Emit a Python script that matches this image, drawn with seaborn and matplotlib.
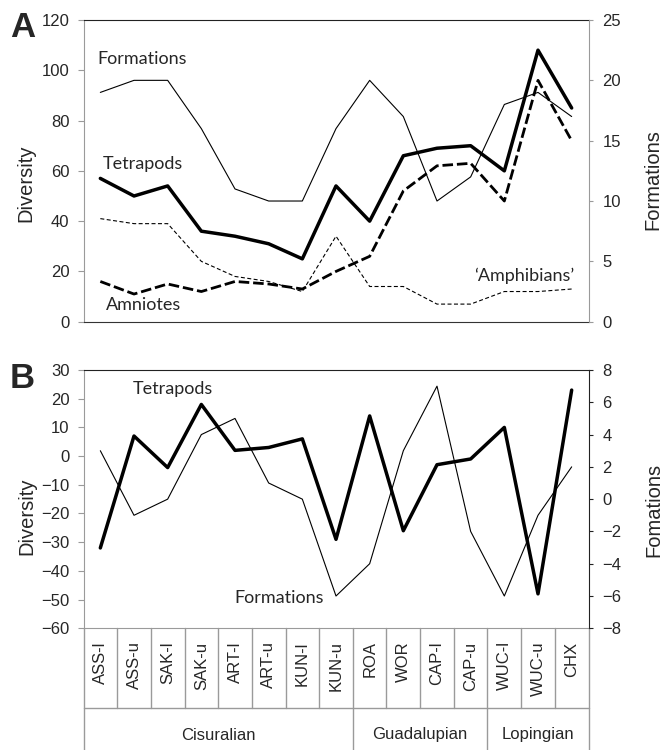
import numpy as np
import matplotlib
matplotlib.use("Agg")
import matplotlib.pyplot as plt
import matplotlib.transforms as mtransforms
import seaborn as sns

# stages and epochs
stages = ["ASS-l", "ASS-u", "SAK-l", "SAK-u", "ART-l", "ART-u", "KUN-l", "KUN-u",
          "ROA", "WOR", "CAP-l", "CAP-u", "WUC-l", "WUC-u", "CHX"]
epochs = ["Cisuralian", "Guadalupian", "Lopingian"]
epoch_sizes = [8, 4, 3]

# panel A: raw diversity (left axis) and formations (right axis)
tetrapods_a = [57, 50, 54, 36, 34, 31, 25, 54, 40, 66, 69, 70, 60, 108, 85]
amniotes_a = [16, 11, 15, 12, 16, 15, 13, 20, 26, 52, 62, 63, 48, 96, 72]
amphibians_a = [41, 39, 39, 24, 18, 16, 12, 34, 14, 14, 7, 7, 12, 12, 13]
formations_a = [19, 20, 20, 16, 11, 10, 10, 16, 20, 17, 10, 12, 18, 19, 17]

# panel B: changes
tetrapods_b = [-32, 7, -4, 18, 2, 3, 6, -29, 14, -26, -3, -1, 10, -48, 23]
formations_b = [3, -1, 0, 4, 5, 1, 0, -6, -4, 3, 7, -2, -6, -1, 2]

sns.set_style("white")
plt.rcParams['font.family'] = ['Liberation Sans', 'DejaVu Sans']
note_font = ['Lato', 'DejaVu Sans']

GREY = "#9a9a9a"
DARK = "#222222"

W, H = 663, 750
fig = plt.figure(figsize=(W / 100, H / 100), dpi=100)
x0, x1 = 83.5, 588.5
axA = fig.add_axes([x0 / W, 1 - 321.7 / H, (x1 - x0) / W, 301.7 / H])
axB = fig.add_axes([x0 / W, 1 - 628.3 / H, (x1 - x0) / W, 258.3 / H])

pos = np.arange(len(stages))

# ---- panel A ----
sns.lineplot(x=pos, y=tetrapods_a, ax=axA, color="black", lw=2.5)
sns.lineplot(x=pos, y=amniotes_a, ax=axA, color="black", lw=2.0,
             linestyle=(0, (3.8, 1.4)))
sns.lineplot(x=pos, y=amphibians_a, ax=axA, color="black", lw=0.8,
             linestyle=(0, (3.6, 2.2)))
axA.set_xlim(-0.5, len(stages) - 0.5)
axA.set_ylim(0, 120)
axA.set_yticks(range(0, 121, 20))
axA.set_xticks([])
axA2 = axA.twinx()
sns.lineplot(x=pos, y=formations_a, ax=axA2, color="black", lw=0.8)
axA2.set_ylim(0, 25)
axA2.set_yticks(range(0, 26, 5))

axA.spines["left"].set_color(GREY)
axA.spines["bottom"].set_color("#333333")
axA.spines["top"].set_color(DARK)
axA.spines["right"].set_visible(False)
for s in ["left", "top", "bottom"]:
    axA2.spines[s].set_visible(False)
axA2.spines["right"].set_color(GREY)
axA.tick_params(axis="y", left=True, length=4, width=0.8, color=GREY, pad=6, labelsize=12)
axA2.tick_params(axis="y", right=True, length=3, width=0.8, color=GREY, pad=7, labelsize=12)

axA.set_ylabel("Diversity", fontsize=14.5, va="center")
axA.yaxis.set_label_coords(-0.115, 0.46)
axA2.set_ylabel("Formations", fontsize=14.5, va="center")
axA2.yaxis.set_label_coords(1.128, 0.47)

axA.text(1.25, 104.5, "Formations", fontsize=13, family=note_font, ha="center", va="center")
axA.text(1.25, 62.7, "Tetrapods", fontsize=13, family=note_font, ha="center", va="center")
axA.text(1.28, 6.6, "Amniotes", fontsize=13, family=note_font, ha="center", va="center")
axA.text(12.6, 18.2, "\u2018Amphibians\u2019", fontsize=13, family=note_font, ha="center", va="center")

# ---- panel B ----
sns.lineplot(x=pos, y=tetrapods_b, ax=axB, color="black", lw=2.5)
axB.set_xlim(-0.5, len(stages) - 0.5)
axB.set_ylim(-60, 30)
axB.set_yticks(range(-60, 31, 10))
axB2 = axB.twinx()
sns.lineplot(x=pos, y=formations_b, ax=axB2, color="black", lw=0.8)
axB2.set_ylim(-8, 8)
axB2.set_yticks(range(-8, 9, 2))

axB.set_xticks(pos)
axB.set_xticklabels(stages, rotation=90, fontsize=12)
axB.tick_params(axis="x", length=0, pad=9.5)
axB.spines["left"].set_color(GREY)
axB.spines["bottom"].set_color(GREY)
axB.spines["top"].set_color(DARK)
axB.spines["right"].set_visible(False)
for s in ["left", "top", "bottom"]:
    axB2.spines[s].set_visible(False)
axB2.spines["right"].set_color(DARK)
axB.tick_params(axis="y", left=True, length=4, width=0.8, color=GREY, pad=6, labelsize=12)
axB2.tick_params(axis="y", right=True, length=3, width=0.8, color=DARK, pad=7, labelsize=12)

axB.set_ylabel("Diversity", fontsize=14.5, va="center")
axB.yaxis.set_label_coords(-0.113, 0.435)
axB2.set_ylabel("Fomations", fontsize=14.5, va="center")
axB2.yaxis.set_label_coords(1.13, 0.458)

axB.text(2.15, 23.3, "Tetrapods", fontsize=13, family=note_font, ha="center", va="center")
axB.text(5.32, -49.4, "Formations", fontsize=13, family=note_font, ha="center", va="center")

# stage / epoch table under panel B
trans = mtransforms.blended_transform_factory(axB.transData, axB.transAxes)
row_y = -(708.3 - 628.3) / 258.3
bottom_y = -0.5
for b in np.arange(-0.5, len(stages), 1.0):
    axB.plot([b, b], [0, row_y], transform=trans, color=GREY, lw=1, clip_on=False)
axB.plot([-0.5, len(stages) - 0.5], [row_y, row_y], transform=trans, color=GREY, lw=1, clip_on=False)
edges = np.concatenate([[0], np.cumsum(epoch_sizes)]) - 0.5
for b in edges:
    axB.plot([b, b], [row_y, bottom_y], transform=trans, color=GREY, lw=1, clip_on=False)
for name, a, b in zip(epochs, edges[:-1], edges[1:]):
    axB.text((a + b) / 2, -(735 - 628.3) / 258.3, name, transform=trans, fontsize=12,
             ha="center", va="center")

fig.text(10 / W, 1 - 27.5 / H, "A", fontsize=25, fontweight="bold", ha="left", va="center")
fig.text(10 / W, 1 - 378 / H, "B", fontsize=25, fontweight="bold", ha="left", va="center")

fig.savefig("out.png", dpi=100)
